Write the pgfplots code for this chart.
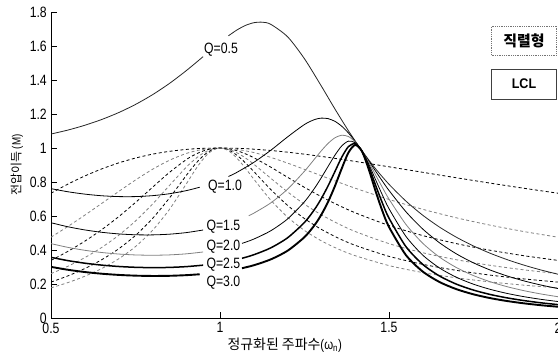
\documentclass[border=0pt]{standalone}
\usepackage{fontspec}
\setmainfont{Liberation Sans}
\newfontfamily\cf[FakeStretch=0.82]{Liberation Sans}
\newfontfamily\cfw[FakeStretch=0.9]{Liberation Sans}
\newfontfamily\kr{Noto Sans CJK KR}
\usepackage{pgfplots}
\pgfplotsset{compat=1.18}
\definecolor{lg}{gray}{0.5}
\pgfplotsset{
  lcl/.style={no marks, smooth, tension=0.45, line width=0.8bp},
  ser/.style={no marks, smooth, tension=0.45, line width=0.8bp, dash pattern=on 3bp off 2.5bp},
}
\begin{document}
\begin{tikzpicture}[x=1bp,y=1bp]
\begin{axis}[
  at={(51bp,41bp)}, anchor=south west,
  x=338bp, y=170bp,
  xmin=0.5, xmax=2, ymin=0, ymax=1.8,
  axis lines*=left,
  axis line style={line width=0.8bp},
  tick align=inside, major tick length=6bp,
  tick style={line width=0.7bp, black},
  xtick={0.5,1,1.5,2},
  ytick={0,0.2,0.4,0.6,0.8,1,1.2,1.4,1.6,1.8},
  /pgf/number format/assume math mode=true,
  tick label style={font=\cf\fontsize{15}{15}\selectfont},
  xticklabel style={inner sep=1bp, yshift=-3.5bp},
  yticklabel style={inner sep=1bp, xshift=-3bp},
  xlabel={{\kr\fontsize{14}{14}\selectfont 정규화된 주파수}{\cf\fontsize{14}{14}\selectfont(ω\textsubscript{n})}},
  x label style={at={(axis description cs:0.461,0)}, anchor=north, yshift=-16bp},
  ylabel={{\kr\fontsize{12}{12}\selectfont 전압이득 }{\cf\fontsize{12}{12}\selectfont(M)}},
  y label style={at={(axis description cs:0,0.5)}, anchor=center, yshift=34bp},
]
% ---------------- series resonant (dashed)
\addplot[ser, black] coordinates {(0.5,0.7340)(0.55,0.7876)(0.6,0.8354)(0.65,0.8769)(0.7,0.9121)(0.75,0.9409)(0.8,0.9636)(0.85,0.9803)(0.9,0.9916)(0.94,0.9971)(1,1)(1.06,0.9974)(1.1,0.9931)(1.15,0.9854)(1.2,0.9754)(1.25,0.9636)(1.3,0.9504)(1.35,0.9361)(1.4,0.9210)(1.5,0.8894)(1.6,0.8570)(1.7,0.8247)(1.8,0.7932)(1.9,0.7629)(2,0.7340)};
\addplot[ser, lg] coordinates {(0.5,0.4754)(0.55,0.5385)(0.6,0.6050)(0.65,0.6740)(0.7,0.7437)(0.75,0.8117)(0.8,0.8743)(0.85,0.9276)(0.9,0.9677)(0.94,0.9885)(0.98,0.9988)(1,1)(1.04,0.9953)(1.1,0.9734)(1.15,0.9450)(1.2,0.9111)(1.25,0.8743)(1.3,0.8366)(1.35,0.7994)(1.4,0.7635)(1.5,0.6973)(1.6,0.6393)(1.7,0.5891)(1.8,0.5458)(1.9,0.5082)(2,0.4754)};
\addplot[ser, black] coordinates {(0.5,0.3389)(0.55,0.3920)(0.6,0.4519)(0.65,0.5197)(0.7,0.5957)(0.75,0.6796)(0.8,0.7684)(0.85,0.8559)(0.9,0.9314)(0.92,0.9554)(0.94,0.9747)(0.96,0.9888)(0.98,0.9972)(1,1)(1.02,0.9973)(1.04,0.9896)(1.06,0.9775)(1.08,0.9617)(1.1,0.9429)(1.15,0.8876)(1.2,0.8275)(1.25,0.7684)(1.3,0.7134)(1.35,0.6636)(1.4,0.6190)(1.5,0.5441)(1.6,0.4848)(1.7,0.4372)(1.8,0.3983)(1.9,0.3661)(2,0.3389)};
\addplot[ser, lg] coordinates {(0.5,0.2608)(0.55,0.3044)(0.6,0.3552)(0.65,0.4150)(0.7,0.4861)(0.75,0.5706)(0.8,0.6692)(0.85,0.7788)(0.9,0.8869)(0.92,0.9238)(0.94,0.9564)(0.96,0.9803)(0.98,0.9951)(1,1)(1.02,0.9953)(1.04,0.9818)(1.06,0.9610)(1.08,0.9347)(1.1,0.9047)(1.15,0.8223)(1.2,0.7416)(1.25,0.6692)(1.3,0.6069)(1.35,0.5539)(1.4,0.5088)(1.5,0.4374)(1.6,0.3838)(1.7,0.3425)(1.8,0.3097)(1.9,0.2830)(2,0.2608)};
\addplot[ser, black] coordinates {(0.5,0.2113)(0.55,0.2477)(0.6,0.2908)(0.65,0.3428)(0.7,0.4066)(0.75,0.4858)(0.8,0.5846)(0.85,0.7047)(0.9,0.8380)(0.92,0.8891)(0.94,0.9342)(0.96,0.9697)(0.98,0.9923)(1,1)(1.02,0.9926)(1.04,0.9719)(1.06,0.9410)(1.08,0.9032)(1.1,0.8617)(1.15,0.7563)(1.2,0.6624)(1.25,0.5846)(1.3,0.5213)(1.35,0.4698)(1.4,0.4275)(1.5,0.3626)(1.6,0.3156)(1.7,0.2800)(1.8,0.2521)(1.9,0.2297)(2,0.2113)};
\addplot[ser, lg] coordinates {(0.5,0.1773)(0.55,0.2084)(0.6,0.2456)(0.65,0.2910)(0.7,0.3477)(0.75,0.4203)(0.8,0.5148)(0.85,0.6376)(0.9,0.7880)(0.92,0.8507)(0.94,0.9091)(0.96,0.9572)(0.98,0.9890)(1,1)(1.02,0.9894)(1.04,0.9603)(1.06,0.9181)(1.08,0.8687)(1.1,0.8167)(1.15,0.6938)(1.2,0.5932)(1.25,0.5148)(1.3,0.4537)(1.35,0.4054)(1.4,0.3666)(1.5,0.3084)(1.6,0.2671)(1.7,0.2362)(1.8,0.2121)(1.9,0.1930)(2,0.1773)};
% ---------------- LCL (solid)
% Q=0.5
\addplot[lcl, black!85] coordinates {(0.5,1.0822)(0.55,1.1055)(0.6,1.1337)(0.65,1.1676)(0.7,1.2081)(0.75,1.2562)(0.8,1.3130)(0.85,1.3792)(0.9,1.4547)(0.95,1.5373)};
\addplot[lcl, black!85] coordinates {(1.025,1.6600)(1.05,1.6941)(1.075,1.7208)(1.1,1.7370)(1.125,1.7401)(1.15,1.7278)(1.2,1.6542)(1.25,1.5246)(1.3,1.3635)(1.34,1.2295)(1.38,1.1013)(1.42,0.9838)(1.46,0.8785)(1.5,0.7866)(1.55,0.6878)(1.6,0.6042)(1.65,0.5340)(1.7,0.4744)(1.75,0.4237)(1.8,0.3803)(1.85,0.3430)(1.9,0.3105)(1.95,0.2822)(2,0.2574)};
% Q=1.0
\addplot[lcl, black] coordinates {(0.5,0.7608)(0.55,0.7426)(0.6,0.7287)(0.65,0.7191)(0.7,0.7142)(0.75,0.7142)(0.8,0.7196)(0.85,0.7309)(0.9,0.7491)(0.94,0.7693)};
\addplot[lcl, black] coordinates {(1.025,0.8322)(1.05,0.8568)(1.1,0.9154)(1.15,0.9863)(1.2,1.0654)(1.25,1.1384)(1.28,1.1675)(1.3,1.1758)(1.32,1.1727)(1.34,1.1569)(1.36,1.1284)(1.38,1.0883)(1.4,1.0390)(1.42,0.9835)(1.44,0.9250)(1.46,0.8646)(1.48,0.8064)(1.5,0.7503)(1.55,0.6252)(1.6,0.5230)(1.65,0.4416)(1.7,0.3765)(1.75,0.3242)(1.8,0.2817)(1.85,0.2469)(1.9,0.2179)(1.95,0.1937)(2,0.1732)};
% Q=1.5
\addplot[lcl, black] coordinates {(0.5,0.5604)(0.55,0.5367)(0.6,0.5181)(0.65,0.5042)(0.7,0.4947)(0.75,0.4896)(0.8,0.4889)(0.85,0.4930)(0.9,0.5023)(0.95,0.5176)};
\addplot[lcl, lg] coordinates {(1.085,0.6019)(1.1,0.6166)(1.15,0.6768)(1.2,0.7581)(1.25,0.8637)(1.28,0.9361)(1.3,0.9842)(1.32,1.0276)(1.34,1.0601)(1.36,1.0752)(1.38,1.0675)(1.4,1.0357)(1.42,0.9830)(1.44,0.9167)(1.46,0.8427)(1.48,0.7695)(1.5,0.6994)(1.55,0.5506)(1.6,0.4393)(1.65,0.3573)(1.7,0.2960)(1.75,0.2493)(1.8,0.2128)(1.85,0.1839)(1.9,0.1604)(1.95,0.1412)(2,0.1252)};
% Q=2.0
\addplot[lcl, lg] coordinates {(0.5,0.4375)(0.55,0.4155)(0.6,0.3983)(0.65,0.3853)(0.7,0.3763)(0.75,0.3709)(0.8,0.3692)(0.85,0.3712)(0.9,0.3774)(0.95,0.3884)};
\addplot[lcl, black] coordinates {(1.065,0.4388)(1.1,0.4642)(1.15,0.5130)(1.2,0.5829)(1.25,0.6840)(1.28,0.7643)(1.3,0.8262)(1.32,0.8926)(1.34,0.9579)(1.36,1.0120)(1.38,1.0404)(1.4,1.0310)(1.42,0.9824)(1.44,0.9054)(1.46,0.8148)(1.48,0.7254)(1.5,0.6430)(1.55,0.4803)(1.6,0.3696)(1.65,0.2934)(1.7,0.2390)(1.75,0.1988)(1.8,0.1682)(1.85,0.1443)(1.9,0.1252)(1.95,0.1097)(2,0.0969)};
% Q=2.5
\addplot[lcl, black, line width=1.5bp] coordinates {(0.5,0.3570)(0.55,0.3375)(0.6,0.3224)(0.65,0.3111)(0.7,0.3031)(0.75,0.2982)(0.8,0.2963)(0.85,0.2976)(0.9,0.3022)(0.95,0.3108)};
\addplot[lcl, black, line width=1.5bp] coordinates {(1.065,0.3512)(1.1,0.3720)(1.15,0.4124)(1.2,0.4720)(1.25,0.5624)(1.28,0.6395)(1.3,0.7034)(1.32,0.7783)(1.34,0.8617)(1.36,0.9450)(1.38,1.0084)(1.4,1.0252)(1.42,0.9815)(1.44,0.8914)(1.46,0.7826)(1.48,0.6785)(1.5,0.5872)(1.55,0.4200)(1.6,0.3151)(1.65,0.2463)(1.7,0.1986)(1.75,0.1641)(1.8,0.1381)(1.85,0.1181)(1.9,0.1022)(1.95,0.0893)(2,0.0788)};
% Q=3.0
\addplot[lcl, black, line width=1.9bp] coordinates {(0.5,0.3008)(0.55,0.2837)(0.6,0.2704)(0.65,0.2605)(0.7,0.2535)(0.75,0.2491)(0.8,0.2473)(0.85,0.2482)(0.9,0.2520)(0.94,0.2573)};
\addplot[lcl, black, line width=1.9bp] coordinates {(1.065,0.2928)(1.1,0.3103)(1.15,0.3446)(1.2,0.3959)(1.25,0.4760)(1.28,0.5470)(1.3,0.6085)(1.32,0.6844)(1.34,0.7760)(1.36,0.8788)(1.38,0.9730)(1.4,1.0182)(1.42,0.9804)(1.44,0.8752)(1.46,0.7480)(1.48,0.6319)(1.5,0.5354)(1.55,0.3702)(1.6,0.2729)(1.65,0.2111)(1.7,0.1692)(1.75,0.1392)(1.8,0.1168)(1.85,0.0996)(1.9,0.0861)(1.95,0.0751)(2,0.0662)};
% labels
\begin{scope}[every node/.style={font=\cf\fontsize{15}{15}\selectfont, inner sep=0pt}]
\node at (axis cs:1.003,1.58) {Q=0.5};
\node at (axis cs:1.015,0.77) {Q=1.0};
\node at (axis cs:1.010,0.537) {Q=1.5};
\node at (axis cs:1.010,0.419) {Q=2.0};
\node at (axis cs:1.010,0.316) {Q=2.5};
\node at (axis cs:1.010,0.206) {Q=3.0};
\end{scope}
\end{axis}
\node[draw=black!55, densely dotted, line width=0.8bp, minimum width=65bp, minimum height=29bp, inner sep=0pt,
      font=\kr\bfseries\fontsize{15}{15}\selectfont] at (524,318.5) {직렬형};
\node[draw=black!75, line width=1bp, minimum width=65bp, minimum height=30bp, inner sep=0pt,
      font=\cfw\bfseries\fontsize{14}{14}\selectfont] at (524,275) {LCL};
\pgfresetboundingbox
\path[use as bounding box] (0,0) rectangle (558,359);
\end{tikzpicture}
\end{document}
